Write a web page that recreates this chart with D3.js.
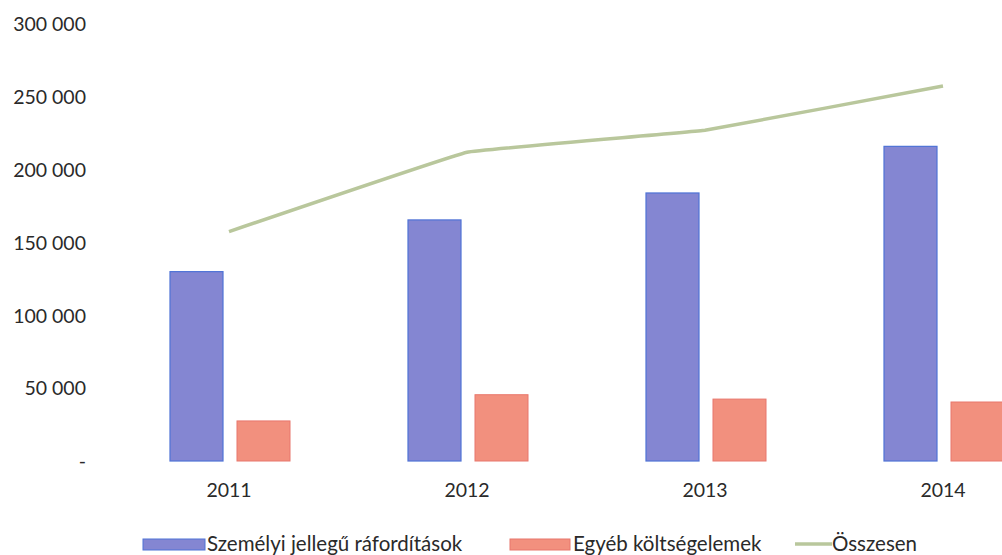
<!DOCTYPE html>
<html>
<head>
<meta charset="utf-8">
<script src="https://cdn.jsdelivr.net/npm/d3@7"></script>
<style>
  body { margin: 0; background: #fff; }
  text { font-family: Lato, "Open Sans", sans-serif; fill: #2a2a2a; }
</style>
</head>
<body>
<div id="chart"></div>
<script>
// chart values
const years = ["2011", "2012", "2013", "2014"];
const szemelyi = [130000, 165500, 184000, 216000];
const egyeb = [27500, 45500, 42500, 40500];
const osszesen = [157500, 212000, 227000, 257500];
const yTicks = [0, 50000, 100000, 150000, 200000, 250000, 300000];
const legendNames = ["Személyi jellegű ráfordítások", "Egyéb költségelemek", "Összesen"];

const width = 1002, height = 555;

const svg = d3.select("#chart").append("svg")
  .attr("width", width)
  .attr("height", height);

// the plot goes off the right edge, like the scan
const x = d3.scaleBand()
  .domain(years)
  .range([110, 1062]);

const y = d3.scaleLinear()
  .domain([0, 300000])
  .range([461, 24]);

const fmt = v => v === 0 ? "-" : d3.format(",")(v).replace(/,/g, " ");

// y axis labels only
svg.append("g")
  .attr("transform", "translate(86,0)")
  .call(d3.axisLeft(y).tickValues(yTicks).tickFormat(fmt).tickSize(0).tickPadding(0))
  .call(g => g.select(".domain").remove())
  .selectAll("text")
  .style("font-size", "19.5px")
  .attr("dy", "0.35em");

// x labels
svg.append("g")
  .attr("transform", "translate(0,474)")
  .call(d3.axisBottom(x).tickSize(0).tickPadding(9))
  .call(g => g.select(".domain").remove())
  .selectAll("text")
  .style("font-size", "19.5px");

const barW = 53;

svg.append("g").selectAll("rect")
  .data(years)
  .join("rect")
  .attr("x", d => x(d) + x.bandwidth() / 2 - 59)
  .attr("y", (d, i) => y(szemelyi[i]))
  .attr("width", barW)
  .attr("height", (d, i) => y(0) - y(szemelyi[i]))
  .attr("fill", "#8486d2")
  .attr("stroke", "#4f73d6")
  .attr("stroke-width", 1.2);

svg.append("g").selectAll("rect")
  .data(years)
  .join("rect")
  .attr("x", d => x(d) + x.bandwidth() / 2 + 8)
  .attr("y", (d, i) => y(egyeb[i]))
  .attr("width", barW)
  .attr("height", (d, i) => y(0) - y(egyeb[i]))
  .attr("fill", "#f2907e")
  .attr("stroke", "#e8776c")
  .attr("stroke-width", 1);

const line = d3.line()
  .x((d, i) => x(years[i]) + x.bandwidth() / 2)
  .y(d => y(d))
  .curve(d3.curveCardinal.tension(0.85));

svg.append("path")
  .datum(osszesen)
  .attr("d", line)
  .attr("fill", "none")
  .attr("stroke", "#b9c79c")
  .attr("stroke-width", 3.5);

// legend
const lg = svg.append("g").attr("transform", "translate(0,544)");
lg.append("rect").attr("x", 143).attr("y", -5).attr("width", 62).attr("height", 11)
  .attr("fill", "#8486d2").attr("stroke", "#4f73d6");
lg.append("text").attr("x", 207).attr("dy", "0.35em").style("font-size", "20.5px").text(legendNames[0]);
lg.append("rect").attr("x", 510).attr("y", -5).attr("width", 60).attr("height", 11)
  .attr("fill", "#f2907e").attr("stroke", "#e8776c");
lg.append("text").attr("x", 573).attr("dy", "0.35em").style("font-size", "20.5px").text(legendNames[1]);
lg.append("line").attr("x1", 795).attr("x2", 832).attr("y1", 0).attr("y2", 0)
  .attr("stroke", "#b9c79c").attr("stroke-width", 3.5);
lg.append("text").attr("x", 832).attr("dy", "0.35em").style("font-size", "20.5px").text(legendNames[2]);
</script>
</body>
</html>
